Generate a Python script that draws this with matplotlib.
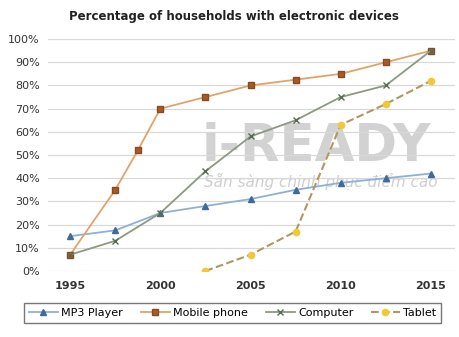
import matplotlib.pyplot as plt
from matplotlib.ticker import PercentFormatter

# data
years = [1995, 1997.5, 2000, 2002.5, 2005, 2007.5, 2010, 2012.5, 2015]
mp3 = [15, 17.5, 25, 28, 31, 35, 38, 40, 42]
computer = [7, 13, 25, 43, 58, 65, 75, 80, 95]
mobile_years = [1995, 1997.5, 1998.75, 2000, 2002.5, 2005, 2007.5, 2010, 2012.5, 2015]
mobile = [7, 35, 52, 70, 75, 80, 82.5, 85, 90, 95]
tablet_years = [2002.5, 2005, 2007.5, 2010, 2012.5, 2015]
tablet = [0, 7, 17, 63, 72, 82]

fig = plt.figure(figsize=(4.59, 3.37), dpi=100)
ax = fig.add_axes([0.105, 0.196, 0.886, 0.688])

# faint watermark
ax.text(2002.3, 47.5, 'i-READY', fontsize=37, fontweight='bold', color='#d2d2d2',
        zorder=0)
ax.text(2002.4, 36, 'Sẵn sàng chinh phục điểm cao', fontsize=11, style='italic',
        color='#cfcfcf', zorder=0)

ax.plot(years, mp3, color='#8fb0d6', lw=1.3, marker='^', ms=4,
        mfc='#3f6a9a', mec='#3f6a9a', label='MP3 Player', zorder=3)
ax.plot(mobile_years, mobile, color='#e0a468', lw=1.3, marker='s', ms=4,
        mfc='#a85a28', mec='#8a4a20', label='Mobile phone', zorder=3)
ax.plot(years, computer, color='#8c9a80', lw=1.3, marker='x', ms=4.5,
        mec='#5a6a50', label='Computer', zorder=3)
ax.plot(tablet_years, tablet, color='#b09860', lw=1.5, ls='--', marker='o', ms=4.5,
        mfc='#f2c838', mec='#f2c838', label='Tablet', zorder=3)

ax.set_xlim(1993.78, 2016.33)
ax.set_ylim(0, 100)
ax.set_yticks(range(0, 101, 10))
ax.yaxis.set_major_formatter(PercentFormatter(decimals=0))
ax.set_xticks([1995, 2000, 2005, 2010, 2015])
ax.grid(axis='y', color='#d9d9d9', lw=0.9)
ax.set_axisbelow(True)
for s in ax.spines.values():
    s.set_visible(False)
ax.tick_params(length=0, colors='#333333')
ax.tick_params(axis='y', labelsize=8, pad=6)
ax.tick_params(axis='x', labelsize=8, pad=7)
for lbl in ax.get_xticklabels():
    lbl.set_fontweight('bold')

fig.suptitle('Percentage of households with electronic devices', x=0.51, y=0.97,
             fontsize=8.5, fontweight='bold', color='#222222')

leg = fig.legend(loc='center', bbox_to_anchor=(0.507, 0.071), ncol=4, fontsize=8,
                 frameon=True, fancybox=False, edgecolor='#555555',
                 handlelength=2.6, columnspacing=1.6, handletextpad=0.3,
                 borderpad=0.45)
leg.get_frame().set_linewidth(1.0)

fig.savefig('out.png', dpi=100)
